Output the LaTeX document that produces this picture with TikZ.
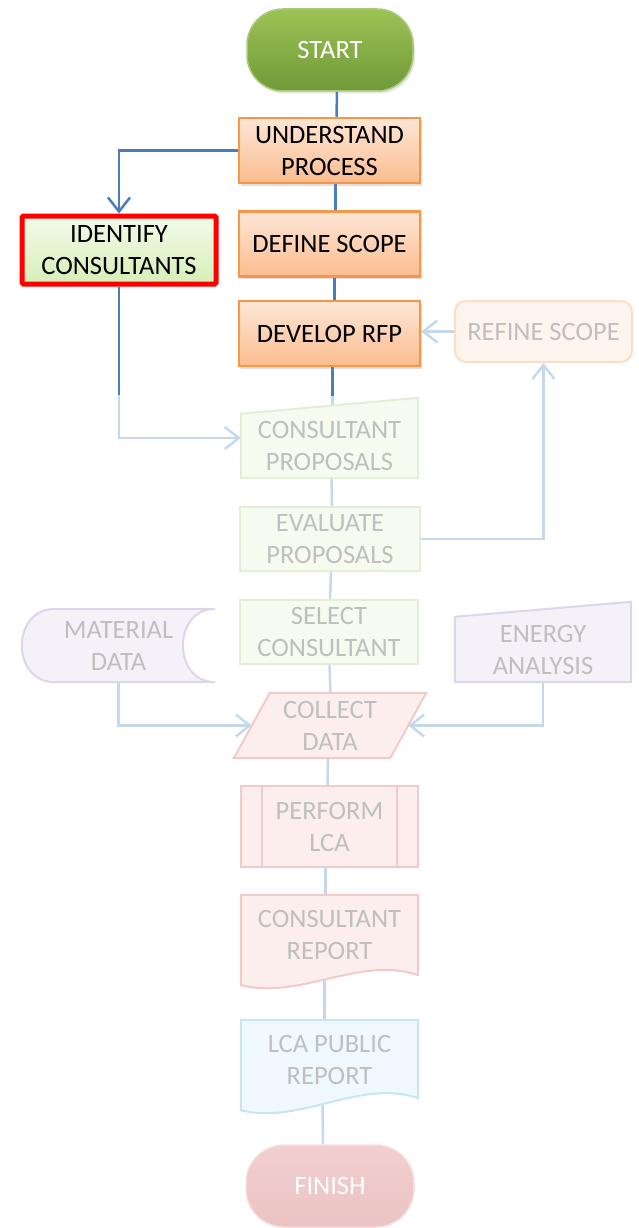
\documentclass[tikz,border=0pt]{standalone}
\usepackage{fontspec}
\setmainfont{Carlito}
\usetikzlibrary{arrows.meta,calc,shadows}
\pgfdeclarelayer{bg}
\pgfdeclarelayer{shapes}
\pgfsetlayers{bg,shapes,main}
\definecolor{lnblue}{HTML}{4A7EBB}
\definecolor{lnfade}{HTML}{C6D8EE}
\definecolor{fadetext}{HTML}{BFBFBF}
\definecolor{orbord}{HTML}{F79646}
\definecolor{ortop}{HTML}{FDE6D6}
\definecolor{orbot}{HTML}{FBBD8F}
\definecolor{gntop}{HTML}{9DC256}
\definecolor{gnbot}{HTML}{6F9A38}
\definecolor{gnbord}{HTML}{A9C978}
\definecolor{idtop}{HTML}{F3FAEA}
\definecolor{idbot}{HTML}{D5EFB6}
\definecolor{fgfill}{HTML}{F6FBF0}
\definecolor{fgbord}{HTML}{E3EFD5}
\definecolor{fofill}{HTML}{FEF4EE}
\definecolor{fobord}{HTML}{FCDDC6}
\definecolor{fpfill}{HTML}{FDEEEE}
\definecolor{fpbord}{HTML}{F2CACA}
\definecolor{flfill}{HTML}{F4F1F8}
\definecolor{flbord}{HTML}{DDD6EA}
\definecolor{fbfill}{HTML}{EEF8FD}
\definecolor{fbbord}{HTML}{C8E6EF}
\definecolor{fintop}{HTML}{F2CFCF}
\definecolor{finbot}{HTML}{EBC3C3}
\tikzset{
  box/.style={minimum width=181pt, minimum height=65pt, inner sep=0pt, align=center,
    font=\fontsize{26.5}{32}\selectfont},
  orangebox/.style={box, draw=orbord, line width=2.5pt, top color=ortop, bottom color=orbot,
    drop shadow={shadow xshift=2pt, shadow yshift=-2.5pt, opacity=0.25}},
  fadebox/.style={box, text=fadetext},
  fgreen/.style={fill=fgfill, draw=fgbord, line width=2pt},
  fpink/.style={fill=fpfill, draw=fpbord, line width=2pt},
  flav/.style={fill=flfill, draw=flbord, line width=2pt},
  fblue/.style={fill=fbfill, draw=fbbord, line width=2pt},
  conn/.style={draw=lnblue, line width=2.5pt},
  fconn/.style={draw=lnfade, line width=2.5pt},
  tip/.style={-{Straight Barb[length=14pt, width=22pt]}},
}
\begin{document}
\begin{tikzpicture}[x=1pt,y=-1pt]
\useasboundingbox (0,0) rectangle (638,1228);

% main nodes
\node[box, minimum width=166pt, minimum height=82pt, rounded corners=36pt, draw=gnbord, line width=1.5pt,
  top color=gntop, bottom color=gnbot, text=white,
  drop shadow={shadow xshift=2pt, shadow yshift=-2.5pt, opacity=0.2}] (start) at (330,50) {START};
\node[orangebox] (understand) at (329.5,150.5) {UNDERSTAND\\PROCESS};
\node[orangebox] (define) at (329.5,244) {DEFINE SCOPE};
\node[orangebox] (develop) at (329.5,333.5) {DEVELOP RFP};
\node[box, minimum width=194pt, minimum height=68pt, draw=red, line width=5pt, rounded corners=1.5pt,
  top color=idtop, bottom color=idbot,
  drop shadow={shadow xshift=2pt, shadow yshift=-2.5pt, opacity=0.2}] (identify) at (119,250) {IDENTIFY\\CONSULTANTS};
\node[fadebox, minimum width=177pt, minimum height=61pt, rounded corners=11pt, fill=fofill, draw=fobord, line width=2pt]
  (refine) at (543.5,331.5) {REFINE SCOPE};
\node[fadebox, minimum width=177pt, minimum height=64pt] (cp) at (329.5,446) {CONSULTANT\\PROPOSALS};
\node[fadebox, fgreen, minimum width=180pt, minimum height=64pt] (evaluate) at (330,539) {EVALUATE\\PROPOSALS};
\node[fadebox, fgreen, minimum width=178pt, minimum height=64pt] (select) at (329,632) {SELECT\\CONSULTANT};
\node[fadebox, minimum width=193pt, minimum height=73pt] (material) at (118.5,645.5) {MATERIAL\\DATA};
\node[fadebox, minimum width=176pt, minimum height=65pt] (energy) at (543,649.5) {ENERGY\\ANALYSIS};
\node[fadebox, minimum width=192pt, minimum height=65pt] (collect) at (330,725.5) {COLLECT\\DATA};
\node[fadebox, fpink, minimum width=177pt, minimum height=81pt] (perform) at (329.5,826.5) {PERFORM\\LCA};
\node[fadebox, minimum width=177pt, minimum height=80pt] (report) at (329.5,935) {CONSULTANT\\REPORT};
\node[fadebox, minimum width=177pt, minimum height=80pt] (public) at (329.5,1060) {LCA PUBLIC\\REPORT};
\node[box, minimum width=168pt, minimum height=82pt, rounded corners=38pt, draw=fpbord!60, line width=1.5pt,
  top color=fintop, bottom color=finbot, text=white] (finish) at (330,1186) {FINISH};

% inner bars of the predefined-process box
\draw[draw=fpbord, line width=2pt] ($(perform.north west)+(22,0)$) -- ($(perform.south west)+(22,0)$)
  ($(perform.north east)+(-22,0)$) -- ($(perform.south east)+(-22,0)$);

% special outlines
\begin{pgfonlayer}{shapes}
\path[fgreen] (cp.south west) -- (cp.north west) -- ($(cp.north east)+(0,-16)$) -- (cp.south east) -- cycle;
\path[flav] (energy.south west) -- (energy.north west) -- ($(energy.north east)+(0,-15)$) -- (energy.south east) -- cycle;
\path[fpink] (collect.south west) -- ($(collect.north west)+(36,0)$) -- (collect.north east)
  -- ($(collect.south east)+(-36,0)$) -- cycle;
\path[flav] (material.north east) -- ($(material.north west)+(33,0)$)
  .. controls ($(material.north west)+(-11,0)$) and ($(material.south west)+(-11,0)$) .. ($(material.south west)+(33,0)$)
  -- (material.south east)
  .. controls ($(material.south east)+(-43,0)$) and ($(material.north east)+(-43,0)$) .. (material.north east) -- cycle;
\path[fpink] (report.north west) -- (report.north east) -- (report.south east)
  .. controls ($(report.south east)+(-58,-20)$) and ($(report.south west)+(59,25)$) .. ($(report.south west)+(0,10)$) -- cycle;
\path[fblue] (public.north west) -- (public.north east) -- ($(public.south east)+(0,-2)$)
  .. controls ($(public.south east)+(-58,-22)$) and ($(public.south west)+(59,25)$) .. ($(public.south west)+(0,10)$) -- cycle;
\end{pgfonlayer}

% connectors
\begin{pgfonlayer}{bg}
\draw[conn] ($(start.south)+(7,0)$) -- ($(understand.north)+(7,0)$);
\draw[conn] ($(understand.south)+(6,0)$) -- ($(define.north)+(6,0)$);
\draw[conn] ($(define.south)+(5,0)$) -- ($(develop.north)+(5,0)$);
\coordinate (m1) at ($(develop.south)+(3,29)$);
\draw[conn] ($(develop.south)+(3,0)$) -- (m1);
\draw[fconn] (m1) -- ($(cp.north)+(3,0)$);
\draw[conn, tip] (understand.west) -| (identify.north);
\coordinate (m2) at ($(identify.south)+(0,108)$);
\draw[conn] (identify.south) -- (m2);
\draw[fconn, tip] (m2) |- ($(cp.west)+(0,-8)$);
\draw[fconn, tip] (refine.west) -- (refine.west -| develop.east);
\draw[fconn, tip] (evaluate.east) -| (refine.south);
\draw[fconn] ($(cp.south)+(2,0)$) -- ($(evaluate.north)+(2,0)$);
\draw[fconn] ($(evaluate.south)+(1,0)$) -- ($(select.north)+(1,0)$);
\draw[fconn] ($(select.south)+(0.5,0)$) -- ($(collect.north)+(0.5,0)$);
\draw[fconn] ($(collect.south)+(-2,0)$) -- ($(perform.north)+(-2,0)$);
\draw[fconn] ($(perform.south)+(-4,0)$) -- ($(report.north)+(-4,0)$);
\draw[fconn] ($(report.south)+(-5,0)$) -- ($(public.north)+(-5,0)$);
\draw[fconn] ($(public.south)+(-7,0)$) -- ($(finish.north)+(-7,0)$);
\draw[fconn, tip] (material.south) |- ($(collect.west)+(18,0)$);
\draw[fconn, tip] (energy.south) |- ($(collect.east)+(-18,0)$);
\end{pgfonlayer}
\end{tikzpicture}
\end{document}
